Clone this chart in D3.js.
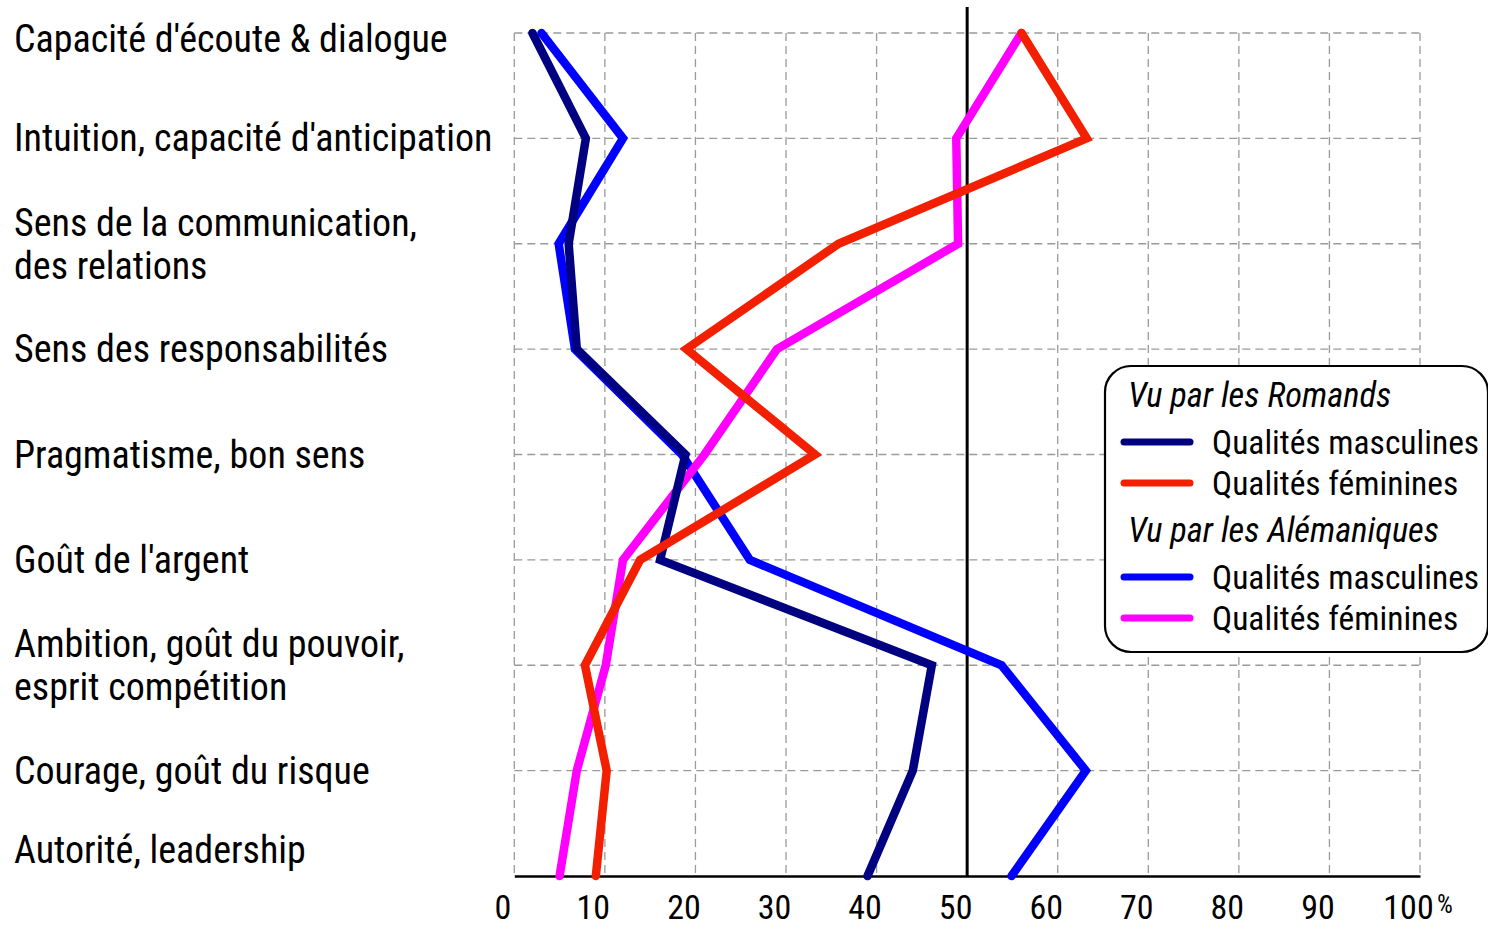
<!DOCTYPE html>
<html>
<head>
<meta charset="utf-8">
<script src="https://cdn.jsdelivr.net/npm/d3@7"></script>
<style>
  body { margin: 0; background: #fff; }
  svg text { font-family: "Roboto Condensed", "Liberation Sans", sans-serif; fill: #000; }
</style>
</head>
<body>
<div id="chart"></div>
<script>
// categories, top to bottom
const categories = [
  "Capacité d'écoute & dialogue",
  "Intuition, capacité d'anticipation",
  "Sens de la communication,\ndes relations",
  "Sens des responsabilités",
  "Pragmatisme, bon sens",
  "Goût de l'argent",
  "Ambition, goût du pouvoir,\nesprit compétition",
  "Courage, goût du risque",
  "Autorité, leadership"
];

const tickValues = [0, 10, 20, 30, 40, 50, 60, 70, 80, 90, 100];

// % values
const romandsMasc = [2.0, 7.9, 6.0, 6.9, 18.9, 16.1, 46.1, 44.0, 39.0];
const romandsFem  = [56.0, 63.2, 35.8, 19.0, 33.2, 13.9, 7.8, 10.2, 9.0];
const alemMasc    = [3.0, 12.0, 4.9, 6.7, 18.5, 26.0, 53.8, 63.1, 54.9];
const alemFem     = [56.0, 48.8, 49.0, 29.0, 21.0, 12.0, 10.1, 6.9, 5.0];

const groupTitles = ["Vu par les Romands", "Vu par les Alémaniques"];
const seriesNames = ["Qualités masculines", "Qualités féminines"];

var width = 1488;
var height = 929;

var svg = d3.select("#chart").append("svg")
  .attr("width", width).attr("height", height);

var x = d3.scaleLinear().domain([0, 100]).range([514.3, 1420]);
var y = d3.scalePoint().domain(categories).range([33, 876]);
var axisY = y(categories[categories.length - 1]);

var series = [
  {name: seriesNames[0], group: 0, color: "#000080", values: romandsMasc},
  {name: seriesNames[1], group: 0, color: "#f21f00", values: romandsFem},
  {name: seriesNames[0], group: 1, color: "#0000ff", values: alemMasc},
  {name: seriesNames[1], group: 1, color: "#ff00ff", values: alemFem}
];

// grid
var grid = svg.append("g")
  .attr("stroke", "#9a9a9a").attr("stroke-width", 1.3).attr("stroke-dasharray", "8,5");

grid.selectAll(".vg")
  .data(tickValues)
  .join("line")
  .attr("x1", d => x(d)).attr("x2", d => x(d))
  .attr("y1", y(categories[0])).attr("y2", axisY);

grid.selectAll(".hg")
  .data(categories.slice(0, -1))
  .join("line")
  .attr("x1", x(0)).attr("x2", x(100))
  .attr("y1", d => y(d)).attr("y2", d => y(d));

// 50% reference line
svg.append("line")
  .attr("x1", x(50)).attr("x2", x(50))
  .attr("y1", 7).attr("y2", axisY)
  .attr("stroke", "#000").attr("stroke-width", 3);

// x axis
var axis = svg.append("g")
  .attr("transform", "translate(0," + axisY + ")")
  .call(d3.axisBottom(x).tickValues(tickValues).tickSize(0).tickSizeOuter(0));

axis.attr("font-family", null).attr("font-size", null);
axis.select(".domain").attr("stroke", "#000").attr("stroke-width", 2.6);
axis.selectAll(".tick text")
  .attr("y", 43).attr("dy", 0).attr("dx", -12)
  .style("font-size", "34px")
  .attr("fill", "#000");

svg.append("text")
  .attr("x", x(100) + 17).attr("y", 913)
  .style("font-size", "25px")
  .text("%");

// category labels
var labels = svg.append("g").style("font-size", "38px");
categories.forEach(function(c) {
  var lines = c.split("\n");
  var base = Math.max(52, Math.min(y(c) + 13, axisY - 13)) - (lines.length - 1) * 21;
  var t = labels.append("text").attr("x", 14).attr("y", base);
  lines.forEach(function(l, i) {
    t.append("tspan").attr("x", 14).attr("y", base + i * 43).text(l);
  });
});

// series lines
var line = d3.line()
  .x(d => x(d.v))
  .y(d => y(d.c));

var drawOrder = [2, 3, 0, 1];
svg.append("g").selectAll("path")
  .data(drawOrder.map(i => series[i]))
  .join("path")
  .attr("d", s => line(s.values.map((v, i) => ({v: v, c: categories[i]}))))
  .attr("fill", "none")
  .attr("stroke", s => s.color)
  .attr("stroke-width", 8.5)
  .attr("stroke-linecap", "round")
  .attr("stroke-linejoin", "miter");

// legend
var lg = svg.append("g");
lg.append("rect")
  .attr("x", 1105).attr("y", 366)
  .attr("width", 383).attr("height", 286)
  .attr("rx", 26).attr("ry", 26)
  .attr("fill", "#fff").attr("stroke", "#000").attr("stroke-width", 2.2);

groupTitles.forEach(function(g, gi) {
  var top = 407 + gi * 135;
  lg.append("text")
    .attr("x", 1128).attr("y", top)
    .style("font-size", "34.5px").style("font-style", "italic")
    .text(g);
  series.filter(s => s.group === gi).forEach(function(s, si) {
    var yy = top + 35 + si * 41;
    lg.append("line")
      .attr("x1", 1124).attr("x2", 1190)
      .attr("y1", yy).attr("y2", yy)
      .attr("stroke", s.color).attr("stroke-width", 7).attr("stroke-linecap", "round");
    lg.append("text")
      .attr("x", 1212).attr("y", yy + 12)
      .style("font-size", "33.5px")
      .text(s.name);
  });
});
</script>
</body>
</html>
